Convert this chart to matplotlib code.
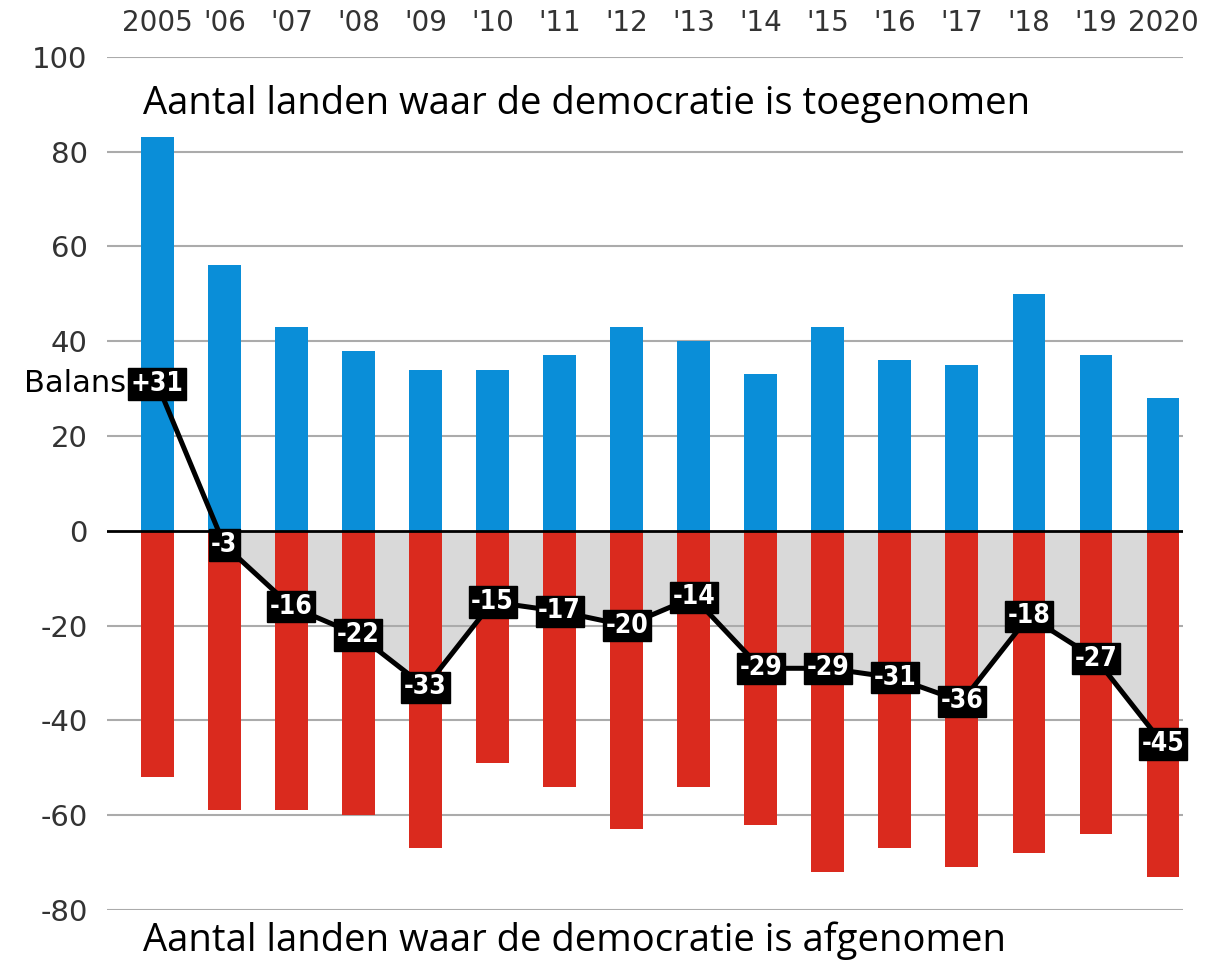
import numpy as np
import matplotlib.pyplot as plt

# data
years = ["2005", "'06", "'07", "'08", "'09", "'10", "'11", "'12", "'13", "'14",
         "'15", "'16", "'17", "'18", "'19", "2020"]
toegenomen = [83, 56, 43, 38, 34, 34, 37, 43, 40, 33, 43, 36, 35, 50, 37, 28]
afgenomen = [-52, -59, -59, -60, -67, -49, -54, -63, -54, -62, -72, -67, -71, -68, -64, -73]
balans = [31, -3, -16, -22, -33, -15, -17, -20, -14, -29, -29, -31, -36, -18, -27, -45]
yticks = [100, 80, 60, 40, 20, 0, -20, -40, -60, -80]

blauw = "#0a8ed8"
rood = "#da2a1e"

fig = plt.figure(figsize=(12.16, 9.63), dpi=100)
ax = fig.add_axes([0.088, 0.055, 0.885, 0.886])

x = np.arange(len(years))
bal = np.array(balans, dtype=float)

# grijze vlak tussen 0 en balans
ax.fill_between(x, bal, 0, where=bal < 0, interpolate=True, color="#d9d9d9", lw=0, zorder=1)

for t in yticks:
    if t != 0:
        ax.axhline(t, color="#ababab", lw=1.5, zorder=2)
ax.axhline(0, color="black", lw=2, zorder=4)

ax.bar(x, toegenomen, width=0.49, color=blauw, zorder=3)
ax.bar(x, afgenomen, width=0.49, color=rood, zorder=3)

ax.plot(x, bal, color="black", lw=3.6, zorder=5)
for xi, b in zip(x, balans):
    s = f"+{b}" if b > 0 else str(b)
    ax.text(xi, b, s, ha="center", va="center", color="white", fontsize=19,
            fontweight="bold", fontstretch="condensed", zorder=6,
            bbox=dict(boxstyle="square,pad=0.1", fc="black", ec="black"))

ax.text(-0.47, 31, "Balans", ha="right", va="center", fontsize=22, color="black", zorder=6)

ax.text(-0.21, 90, "Aantal landen waar de democratie is toegenomen", ha="left", va="center",
        fontsize=27.5, family="Open Sans", color="black", zorder=6)
ax.text(-0.21, -86.5, "Aantal landen waar de democratie is afgenomen", ha="left", va="center",
        fontsize=27.5, family="Open Sans", color="black", zorder=6, clip_on=False)

ax.set_xlim(-0.75, 15.3)
ax.set_ylim(-80, 100)
ax.set_yticks(yticks)
ax.set_yticklabels([str(t) for t in yticks], fontsize=21, color="#333333")
ax.set_xticks(x)
ax.set_xticklabels(years, fontsize=20, color="#333333")
ax.xaxis.tick_top()
ax.tick_params(axis="both", length=0)
ax.tick_params(axis="x", pad=14)
ax.tick_params(axis="y", pad=14)
for sp in ax.spines.values():
    sp.set_visible(False)

fig.savefig("out.png", dpi=100, facecolor="white")
